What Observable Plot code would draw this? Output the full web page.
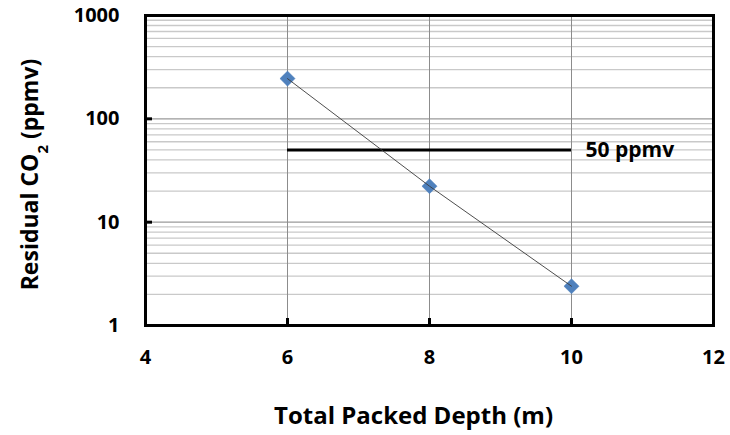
<!DOCTYPE html>
<html>
<head>
<meta charset="utf-8">
<script src="https://cdn.jsdelivr.net/npm/d3@7"></script>
<script src="https://cdn.jsdelivr.net/npm/@observablehq/plot@0.6"></script>
<style>
  html, body { margin: 0; padding: 0; background: #fff; }
  #chart { width: 730px; height: 435px; }
  svg { font-family: "Open Sans", Lato, sans-serif; }
</style>
</head>
<body>
<div id="chart"></div>
<script>
// ---- data ----
const depths = [6, 8, 10];
const co2 = [245, 22.3, 2.4];
const limitValue = 50;
const limitStart = 6;
const limitEnd = 10;
const limitLabel = "50 ppmv";
const xTicks = [4, 6, 8, 10, 12];
const xGrid = [6, 8, 10];
const yTicks = [1, 10, 100, 1000];
const yMajorGrid = [10, 100];
const yMinorGrid = [2,3,4,5,6,7,8,9,20,30,40,50,60,70,80,90,200,300,400,500,600,700,800,900];
const xDomain = [4, 12];
const yDomain = [1, 1000];
const xTitle = "Total Packed Depth (m)";
const yTitleMain = "Residual CO";
const yTitleSub = "2";
const yTitleEnd = " (ppmv)";

const points = depths.map((d, i) => ({depth: d, co2: co2[i]}));
const FONT = "'Open Sans', Lato, sans-serif";

const plot = Plot.plot({
  width: 730,
  height: 435,
  marginLeft: 145,
  marginRight: 17,
  marginTop: 15,
  marginBottom: 110,
  style: {fontFamily: FONT, background: "#fff"},
  x: {domain: xDomain},
  y: {type: "log", domain: yDomain},
  marks: [
    Plot.ruleY(yMinorGrid, {stroke: "#c9c9c9", strokeWidth: 1.3}),
    Plot.ruleY(yMajorGrid, {stroke: "#9a9a9a", strokeWidth: 1.2}),
    Plot.ruleX(xGrid, {stroke: "#8c8c8c", strokeWidth: 1}),
    Plot.ruleY([limitValue], {x1: limitStart, x2: limitEnd, stroke: "black", strokeWidth: 3}),
    Plot.text([limitLabel], {x: limitEnd, y: limitValue, text: d => d, textAnchor: "start", dx: 14, fontSize: 21, fontWeight: "bold", fill: "black", className: "limit-label"}),
    Plot.dot(points, {x: "depth", y: "co2", symbol: "diamond2", r: 6.8, fill: "#4f81bd", stroke: "#4f81bd", strokeWidth: 0.5}),
    Plot.line(points, {x: "depth", y: "co2", stroke: "#3a3a3a", strokeWidth: 0.9}),
    // inward tick marks
    Plot.ruleX(xGrid, {y1: () => yDomain[0], y2: () => yDomain[0], insetTop: -7, stroke: "black", strokeWidth: 3}),
    Plot.ruleY(yMajorGrid, {x1: () => xDomain[0], x2: () => xDomain[0], insetRight: -7, stroke: "black", strokeWidth: 3}),
    Plot.frame({stroke: "black", strokeWidth: 3}),
    Plot.axisX({ticks: xTicks, tickSize: 0, tickPadding: 24, fontSize: 20, fontWeight: "bold", label: null, tickFormat: d => String(d)}),
    Plot.axisY({ticks: yTicks, tickSize: 0, tickPadding: 26, fontSize: 20, fontWeight: "bold", label: null, tickFormat: d => String(d)}),
    Plot.text([xTitle], {frameAnchor: "bottom", dx: -16, dy: 98, text: d => d, fontSize: 24, fontWeight: "bold", fill: "black"}),
    Plot.text([yTitleMain], {frameAnchor: "left", dx: -115, dy: 4, rotate: -90, textAnchor: "middle", text: d => d, fontSize: 23, fontWeight: "bold", fill: "black", className: "ytitle"})
  ]
});

document.getElementById("chart").appendChild(plot);

// y-axis title with subscript
const yt = d3.select(plot).select("g.ytitle text");
yt.text(null);
yt.append("tspan").text(yTitleMain);
yt.append("tspan").attr("baseline-shift", "sub").attr("font-size", 15).text(yTitleSub);
yt.append("tspan").text(yTitleEnd);

// white box behind limit label
const lt = d3.select(plot).select("g.limit-label text");
const bb = lt.node().getBBox();
d3.select(lt.node().parentNode).insert("rect", "text")
  .attr("x", bb.x - 13).attr("y", bb.y - 10)
  .attr("width", bb.width + 38).attr("height", bb.height + 18)
  .attr("fill", "white");
</script>
</body>
</html>
